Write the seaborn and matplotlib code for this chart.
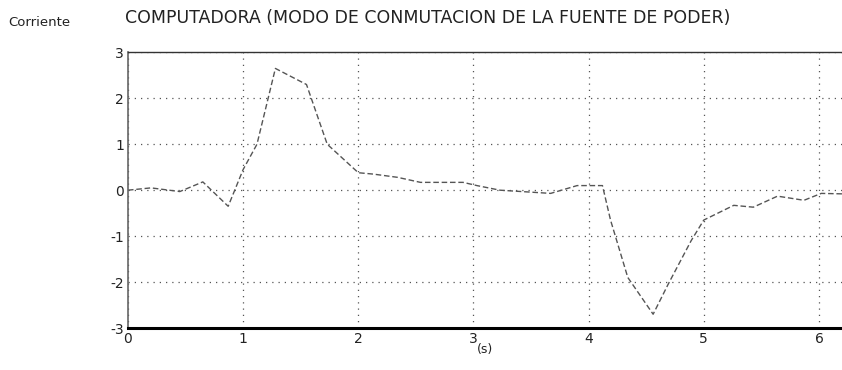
import matplotlib
matplotlib.use("Agg")
import matplotlib.pyplot as plt
import seaborn as sns
import pandas as pd

sns.set_theme(style="white")
plt.rcParams['font.family'] = ['DejaVu Sans']

# Data
tiempo = [0.0, 0.2, 0.45, 0.65, 0.87, 1.0, 1.12, 1.28, 1.55, 1.73, 2.0, 2.13, 2.34,
          2.54, 2.91, 3.03, 3.23, 3.67, 3.9, 4.12, 4.19, 4.34, 4.56, 4.69, 4.89,
          5.0, 5.26, 5.43, 5.64, 5.87, 6.02, 6.2]
corriente = [0.0, 0.05, -0.03, 0.18, -0.35, 0.45, 1.0, 2.65, 2.3, 1.0, 0.38, 0.35, 0.28,
             0.17, 0.17, 0.1, 0.0, -0.07, 0.1, 0.1, -0.65, -1.9, -2.7, -2.05, -1.1,
             -0.65, -0.33, -0.37, -0.13, -0.22, -0.07, -0.08]
xticks = [0, 1, 2, 3, 4, 5, 6]
yticks = [-3, -2, -1, 0, 1, 2, 3]

df = pd.DataFrame({"t": tiempo, "i": corriente})

fig = plt.figure(figsize=(8.42, 3.70), dpi=100)
ax = fig.add_axes([0.152, 0.1135, 0.848, 0.745])
sns.lineplot(data=df, x="t", y="i", ax=ax, color="#555555", lw=1.0,
             linestyle=(0, (4, 2)))

ax.set_xlim(0, 6.2)
ax.set_ylim(-3, 3)
ax.set_xticks(xticks)
ax.set_yticks(yticks)
ax.set_xticklabels([str(v) for v in xticks], fontsize=10, color="#222222")
ax.set_yticklabels([str(v) for v in yticks], fontsize=10, color="#222222")
ax.tick_params(axis='both', length=0, pad=3)
ax.grid(True, linestyle=(0, (1, 4)), color="#555555", lw=0.9)
ax.set_xlabel("(s)", fontsize=9, color="#222222", labelpad=-2)
ax.set_ylabel("")

ax.spines["right"].set_visible(False)
ax.spines["bottom"].set_color("black")
ax.spines["bottom"].set_linewidth(2.2)
ax.spines["top"].set_color("#333333")
ax.spines["top"].set_linewidth(1.0)
ax.spines["left"].set_color("#666666")
ax.spines["left"].set_linewidth(1.2)

fig.text(0.148, 0.952, "COMPUTADORA (MODO DE CONMUTACION DE LA FUENTE DE PODER)",
         fontsize=12.5, color="#222222", ha="left", va="center")
fig.text(0.01, 0.94, "Corriente", fontsize=9.5, color="#222222", ha="left", va="center")

fig.savefig("out.png", dpi=100, facecolor="white")
